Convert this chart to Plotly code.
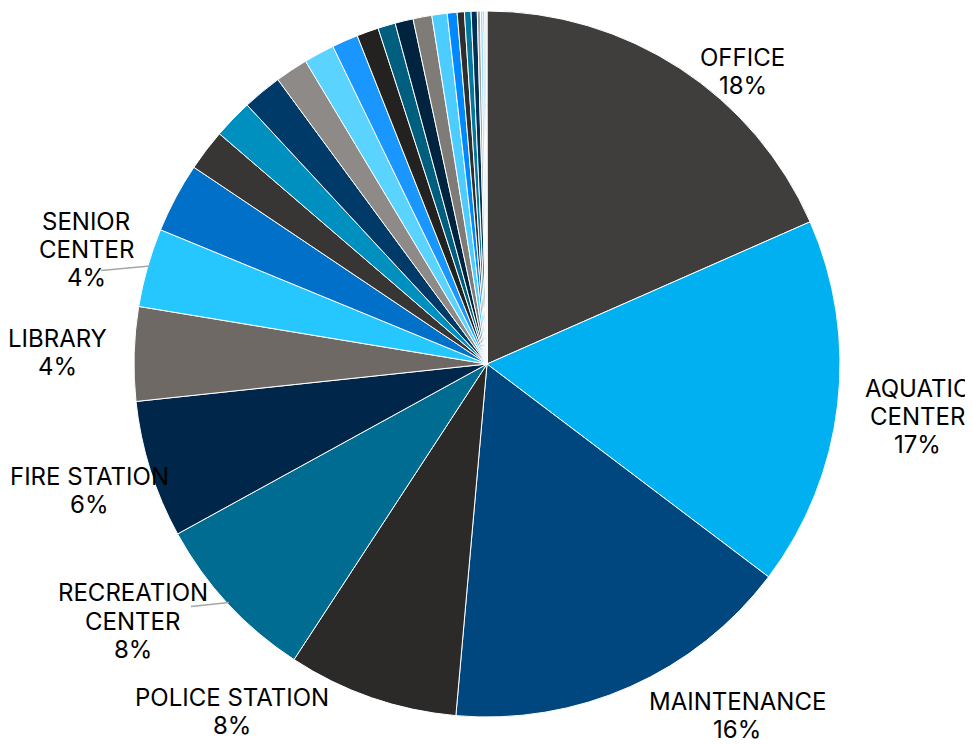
import plotly.graph_objects as go

categories = [
    "OFFICE", "AQUATIC CENTER", "MAINTENANCE", "POLICE STATION",
    "RECREATION CENTER", "FIRE STATION", "LIBRARY", "SENIOR CENTER",
    "OTHER 1", "OTHER 2", "OTHER 3", "OTHER 4", "OTHER 5", "OTHER 6",
    "OTHER 7", "OTHER 8", "OTHER 9", "OTHER 10", "OTHER 11", "OTHER 12",
    "OTHER 13", "OTHER 14", "OTHER 15", "OTHER 16", "OTHER 17", "OTHER 18",
    "OTHER 19", "OTHER 20", "OTHER 21", "OTHER 22",
]
values = [
    18.4, 16.9, 16.1, 7.8, 7.8, 6.3, 4.3, 3.6,
    3.2, 1.9, 1.8, 1.8, 1.5, 1.4, 1.2, 1.0,
    0.8, 0.83, 0.86, 0.7, 0.45, 0.33, 0.3, 0.28,
    0.14, 0.12, 0.07, 0.05, 0.03, 0.03,
]
colors = [
    "#403E3C", "#00B0F0", "#00467F", "#2B2A29", "#006C91", "#00264A",
    "#6E6964", "#26C6FF", "#0070C8", "#383634", "#0090C0", "#003A68",
    "#8E8A87", "#5AD4FF", "#1A96FF", "#232221", "#005E7E", "#00233F",
    "#7F7B77", "#4CCCFF", "#0088FF", "#2F2E2D", "#00789F", "#003056",
    "#A5A19E", "#8FE0FF", "#3AA6FF", "#1C1B1A", "#004F6A", "#001C33",
]

# labelled categories and how their names wrap
label_lines = {
    "OFFICE": ["OFFICE"],
    "AQUATIC CENTER": ["AQUATIC", "CENTER"],
    "MAINTENANCE": ["MAINTENANCE"],
    "POLICE STATION": ["POLICE STATION"],
    "RECREATION CENTER": ["RECREATION", "CENTER"],
    "FIRE STATION": ["FIRE STATION"],
    "LIBRARY": ["LIBRARY"],
    "SENIOR CENTER": ["SENIOR", "CENTER"],
}

# ---- layout: the page body adds an 8px margin, so the figure is drawn
# 8px smaller and every window-pixel position is shifted by 8px ----
PAGE_MARGIN = 8
W, H = 973 - PAGE_MARGIN, 744 - PAGE_MARGIN
ML, MT = 134 - PAGE_MARGIN, 11 - PAGE_MARGIN
PW = PH = 706
MR, MB = W - ML - PW, H - MT - PH
LINE_GAP = 28.3
label_pos = {  # window-pixel centre x, centre y of first line
    "OFFICE": (742.5, 57.2),
    "AQUATIC CENTER": (917, 388.0),
    "MAINTENANCE": (737, 701.5),
    "POLICE STATION": (231.5, 697.2),
    "RECREATION CENTER": (132.5, 592.8),
    "FIRE STATION": (89, 476.0),
    "LIBRARY": (57, 338.0),
    "SENIOR CENTER": (86, 221.0),
}
leader_lines = {
    "RECREATION CENTER": ((191, 606.5), (229, 602.5)),
    "SENIOR CENTER": ((101, 270.5), (150, 266)),
}


def px_to_paper(x, y):
    return ((x - PAGE_MARGIN) - ML) / PW, 1 - ((y - PAGE_MARGIN) - MT) / PH


total = sum(values)
annotations = []
for name, lines in label_lines.items():
    pct = values[categories.index(name)] / total * 100
    all_lines = lines + [f"{pct:.0f}%"]
    cx, cy = label_pos[name]
    for k, line in enumerate(all_lines):
        ax, ay = px_to_paper(cx, cy + k * LINE_GAP)
        annotations.append(dict(
            x=ax, y=ay, xref="paper", yref="paper", text=line,
            showarrow=False, xanchor="center", yanchor="middle",
            font=dict(family="Inter", size=24, color="#000000"),
        ))

shapes = []
for name, (p0, p1) in leader_lines.items():
    x0, y0 = px_to_paper(*p0)
    x1, y1 = px_to_paper(*p1)
    shapes.append(dict(type="line", xref="paper", yref="paper",
                       x0=x0, y0=y0, x1=x1, y1=y1,
                       line=dict(color="#A6A6A6", width=1.5)))

fig = go.Figure(
    go.Pie(
        labels=categories,
        values=values,
        sort=False,
        direction="clockwise",
        rotation=0,
        textinfo="none",
        marker=dict(colors=colors, line=dict(color="white", width=1)),
        showlegend=False,
    )
)
fig.update_layout(
    width=W,
    height=H,
    margin=dict(l=ML, r=MR, t=MT, b=MB),
    paper_bgcolor="white",
    plot_bgcolor="white",
    font=dict(family="Inter", size=24, color="#000000"),
    showlegend=False,
    annotations=annotations,
    shapes=shapes,
)
fig.write_html("out.html")
